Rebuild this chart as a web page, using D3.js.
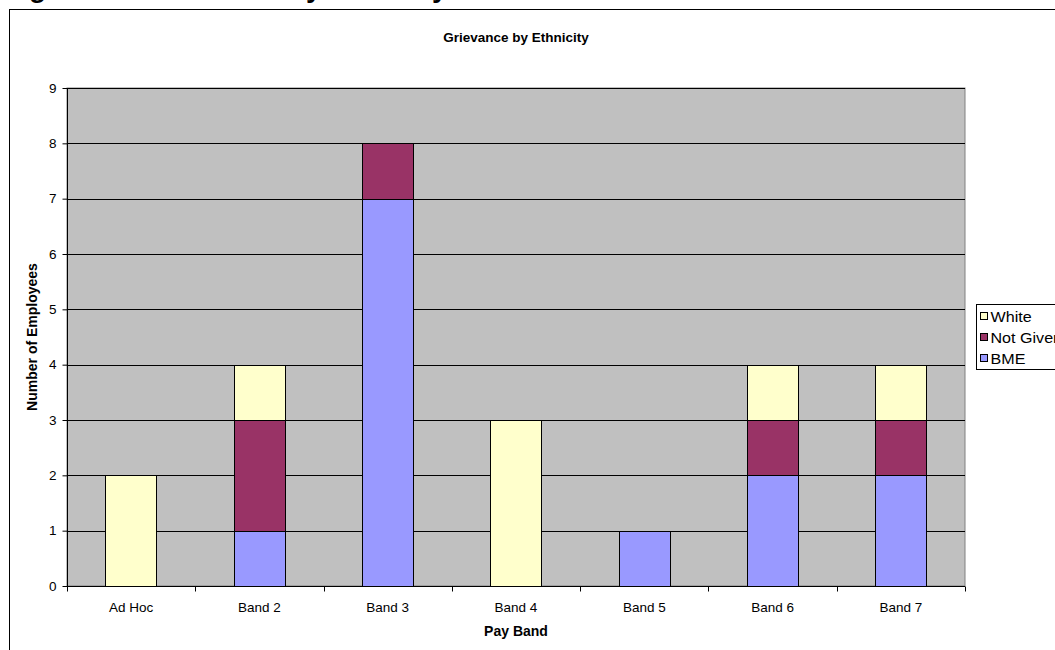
<!DOCTYPE html>
<html>
<head>
<meta charset="utf-8">
<script src="https://cdn.jsdelivr.net/npm/d3@7"></script>
<style>
  html, body { margin: 0; padding: 0; background: #fff; }
  svg { display: block; font-family: "Liberation Sans", Arial, sans-serif; }
  .y-axis text { font-size: 13.5px; fill: #000; font-family: "Liberation Sans", Arial, sans-serif; }
</style>
</head>
<body>
<svg id="chart" width="1055" height="650"></svg>
<script>
// Pay bands along the x axis
const categories = ["Ad Hoc", "Band 2", "Band 3", "Band 4", "Band 5", "Band 6", "Band 7"];
// Stacked series, bottom to top
const bme      = [0, 1, 7, 0, 1, 2, 2];
const notGiven = [0, 2, 1, 0, 0, 1, 1];
const white    = [2, 1, 0, 3, 0, 1, 1];
const seriesNames = ["BME", "Not Given", "White"];
const legendLabels = ["White", "Not Giver", "BME"];
const yTicks = [0, 1, 2, 3, 4, 5, 6, 7, 8, 9];

const colors = { "BME": "#9999FF", "Not Given": "#993366", "White": "#FFFFCC" };

const svg = d3.select("#chart");

// Section heading above the chart, mostly scrolled out of view
svg.append("text")
  .attr("x", 4).attr("y", -3)
  .attr("font-size", 28).attr("font-weight", "bold")
  .text("Figure 10: Grievance by Ethnicity");

// Chart area border
svg.append("rect")
  .attr("x", 9.5).attr("y", 9.5)
  .attr("width", 1100).attr("height", 700)
  .attr("fill", "#fff").attr("stroke", "#000").attr("stroke-width", 1);

const plot = { left: 67, right: 965, top: 88, bottom: 586 };

const xOuter = d3.scaleBand().domain(categories).range([plot.left, plot.right]);
const y = d3.scaleLinear().domain([0, 9]).range([plot.bottom, plot.top]);

// Plot area
svg.append("rect")
  .attr("x", plot.left).attr("y", plot.top)
  .attr("width", plot.right - plot.left).attr("height", plot.bottom - plot.top)
  .attr("fill", "#C0C0C0").attr("stroke", "#808080").attr("stroke-width", 1);

// Gridlines
svg.append("g")
  .selectAll("line")
  .data(yTicks.filter(d => d > 0))
  .join("line")
  .attr("x1", plot.left).attr("x2", plot.right)
  .attr("y1", d => Math.round(y(d)) + 0.5).attr("y2", d => Math.round(y(d)) + 0.5)
  .attr("stroke", "#000").attr("stroke-width", 1);

// Stacked bars (gap width 150%)
const rows = categories.map((c, i) => ({ cat: c, "BME": bme[i], "Not Given": notGiven[i], "White": white[i] }));
const stacked = d3.stack().keys(seriesNames)(rows);

const bw = xOuter.bandwidth() / 2.5;
svg.append("g")
  .selectAll("g")
  .data(stacked)
  .join("g")
  .attr("fill", d => colors[d.key])
  .selectAll("rect")
  .data(d => d.filter(v => v[1] - v[0] > 0))
  .join("rect")
  .attr("x", d => Math.round(xOuter(d.data.cat) + (xOuter.bandwidth() - bw) / 2) + 0.5)
  .attr("width", Math.round(bw))
  .attr("y", d => Math.round(y(d[1])) + 0.5)
  .attr("height", d => Math.round(y(d[0])) - Math.round(y(d[1])))
  .attr("stroke", "#000").attr("stroke-width", 1);

// Y axis
const yAxis = svg.append("g")
  .attr("class", "y-axis")
  .attr("transform", `translate(${plot.left + 0.5},0)`)
  .call(d3.axisLeft(y).tickValues(yTicks).tickSize(5).tickPadding(6).tickFormat(d3.format("d")));
yAxis.attr("font-size", null).attr("font-family", null);
yAxis.selectAll("line, path").attr("stroke", "#000");
yAxis.select(".domain").attr("d", `M0,${plot.top}V${plot.bottom}`);

// X axis with ticks on category boundaries
const xAxisG = svg.append("g").attr("transform", `translate(0,${plot.bottom + 0.5})`);
xAxisG.append("line")
  .attr("x1", plot.left).attr("x2", plot.right)
  .attr("stroke", "#000");
const bounds = categories.map(c => xOuter(c)).concat([plot.right]);
xAxisG.selectAll("line.tick")
  .data(bounds)
  .join("line")
  .attr("class", "tick")
  .attr("x1", d => Math.round(d) + 0.5).attr("x2", d => Math.round(d) + 0.5)
  .attr("y1", 0).attr("y2", 5)
  .attr("stroke", "#000");
xAxisG.selectAll("text")
  .data(categories)
  .join("text")
  .attr("x", d => xOuter(d) + xOuter.bandwidth() / 2)
  .attr("y", 25)
  .attr("text-anchor", "middle")
  .style("font-size", "13.5px")
  .text(d => d);

// Titles
svg.append("text")
  .attr("x", 516).attr("y", 42)
  .attr("text-anchor", "middle")
  .style("font-size", "13.5px").attr("font-weight", "bold")
  .text("Grievance by Ethnicity");

svg.append("text")
  .attr("x", 516).attr("y", 636)
  .attr("text-anchor", "middle")
  .style("font-size", "14px").attr("font-weight", "bold")
  .text("Pay Band");

svg.append("text")
  .attr("transform", `translate(37,${(plot.top + plot.bottom) / 2}) rotate(-90)`)
  .attr("text-anchor", "middle")
  .style("font-size", "14px").attr("font-weight", "bold")
  .text("Number of Employees");

// Legend
const legend = svg.append("g").attr("transform", "translate(976.5,304.5)");
legend.append("rect")
  .attr("width", 120).attr("height", 65)
  .attr("fill", "#fff").attr("stroke", "#000");
const legendKeys = ["White", "Not Given", "BME"];
const li = legend.selectAll("g.item")
  .data(legendKeys)
  .join("g")
  .attr("class", "item")
  .attr("transform", (d, i) => `translate(4,${12 + i * 21})`);
li.append("rect")
  .attr("x", 0).attr("y", -4).attr("width", 7).attr("height", 7)
  .attr("fill", d => colors[d]).attr("stroke", "#000");
li.append("text")
  .attr("transform", "translate(10,5) scale(1.15,1)")
  .style("font-size", "14px")
  .text((d, i) => legendLabels[i]);
</script>
</body>
</html>
